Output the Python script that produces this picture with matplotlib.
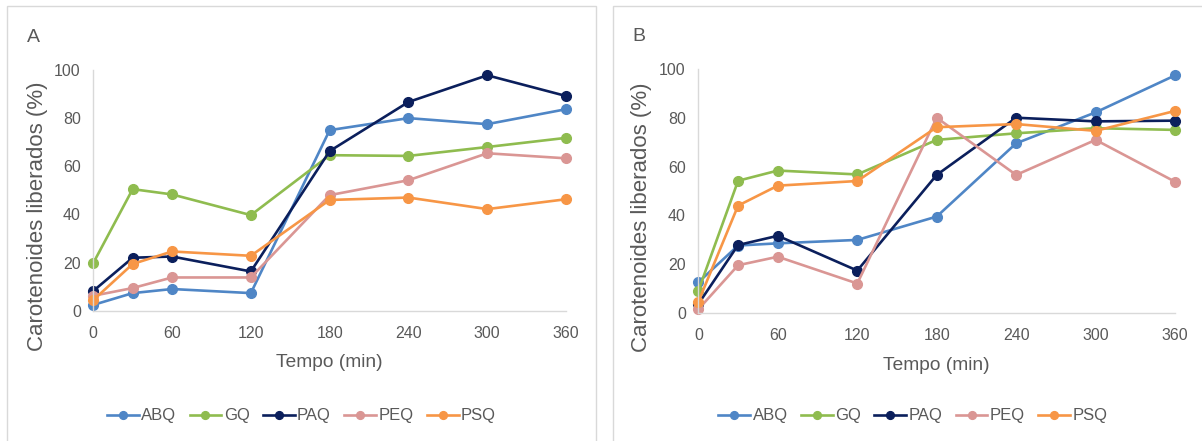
import matplotlib.pyplot as plt
from matplotlib.patches import Rectangle

# sampling times (min)
tempo = [0, 30, 60, 120, 180, 240, 300, 360]
series_names = ["ABQ", "GQ", "PAQ", "PEQ", "PSQ"]
series_colors = ["#4F86C6", "#8FBC4F", "#0B1F5C", "#DA9694", "#F79646"]
xticks = [0, 60, 120, 180, 240, 300, 360]
yticks = [0, 20, 40, 60, 80, 100]

# panel A values (%)
abq_a = [2.4, 7.3, 9.0, 7.3, 75.0, 80.0, 77.5, 83.7]
gq_a = [19.8, 50.5, 48.3, 39.7, 64.6, 64.3, 68.0, 71.8]
paq_a = [8.2, 22.0, 22.5, 16.3, 66.3, 86.7, 97.8, 89.2]
peq_a = [6.2, 9.4, 13.8, 13.8, 48.0, 54.2, 65.4, 63.3]
psq_a = [4.4, 19.4, 24.6, 22.8, 46.0, 47.0, 42.2, 46.3]

# panel B values (%)
abq_b = [12.5, 27.6, 28.5, 29.9, 39.5, 69.6, 82.3, 97.5]
gq_b = [9.0, 54.2, 58.4, 56.8, 71.0, 73.7, 75.8, 75.1]
paq_b = [3.6, 27.8, 31.6, 17.3, 56.6, 80.1, 78.6, 78.9]
peq_b = [1.4, 19.5, 23.0, 12.0, 80.1, 56.6, 71.0, 53.8]
psq_b = [4.5, 44.0, 52.2, 54.1, 76.2, 77.5, 74.7, 82.9]

plt.rcParams['font.family'] = ['Liberation Sans', 'DejaVu Sans']
TXT = "#595959"
GRID = "#D9D9D9"


# draws one panel: frame, axes, lines and legend
def plot_panel(fig, frame, rect, letter_pos, letter, values):
    fig.patches.append(Rectangle((frame[0], frame[1]), frame[2], frame[3],
                                 transform=fig.transFigure, fill=False,
                                 edgecolor=GRID, linewidth=1.0))
    fig.text(letter_pos[0], letter_pos[1], letter, fontsize=14, color=TXT)

    ax = fig.add_axes(rect)
    lines = []
    for name, color, vals in zip(series_names, series_colors, values):
        ln, = ax.plot(tempo, vals, color=color, linewidth=1.9, marker='o',
                      markersize=7, clip_on=False, label=name)
        lines.append(ln)

    ax.set_xlim(0, 360)
    ax.set_ylim(0, 100)
    ax.set_xticks(xticks)
    ax.set_yticks(yticks)
    for side in ["top", "right"]:
        ax.spines[side].set_visible(False)
    for side in ["left", "bottom"]:
        ax.spines[side].set_color(GRID)
        ax.spines[side].set_linewidth(1.0)
    ax.tick_params(length=0, labelsize=11.5, labelcolor=TXT)
    ax.tick_params(axis='x', pad=11)
    ax.tick_params(axis='y', pad=9)

    ax.set_xlabel("Tempo (min)", fontsize=13.8, color=TXT)
    ax.set_ylabel("Carotenoides liberados (%)", fontsize=16, color=TXT)
    ax.xaxis.set_label_coords(0.5, -0.217)
    ax.xaxis.label.set_va('center')
    ax.yaxis.set_label_coords(-0.119, 0.393)
    ax.yaxis.label.set_va('center')

    fig.legend(lines, series_names, loc='center',
               bbox_to_anchor=(frame[0] + frame[2] / 2, 0.057),
               ncol=5, frameon=False, fontsize=12, handlelength=1.9,
               handletextpad=0.15, columnspacing=0.8, markerscale=0.8,
               labelcolor=TXT)
    return ax


def main():
    fig = plt.figure(figsize=(12.02, 4.41), dpi=100)

    plot_panel(fig, (7 / 1202, -0.1, 589 / 1202, 1.1 - 6 / 441),
               (0.0776, 0.2955, 0.3933, 0.5458), (27 / 1202, 1 - 42 / 441),
               "A", [abq_a, gq_a, paq_a, peq_a, psq_a])
    plot_panel(fig, (613 / 1202, -0.1, 600 / 1202, 1.1 - 6 / 441),
               (0.581, 0.2909, 0.3966, 0.552), (632 / 1202, 1 - 41 / 441),
               "B", [abq_b, gq_b, paq_b, peq_b, psq_b])

    fig.savefig("out.png", dpi=100)
    plt.close(fig)


if __name__ == "__main__":
    main()
